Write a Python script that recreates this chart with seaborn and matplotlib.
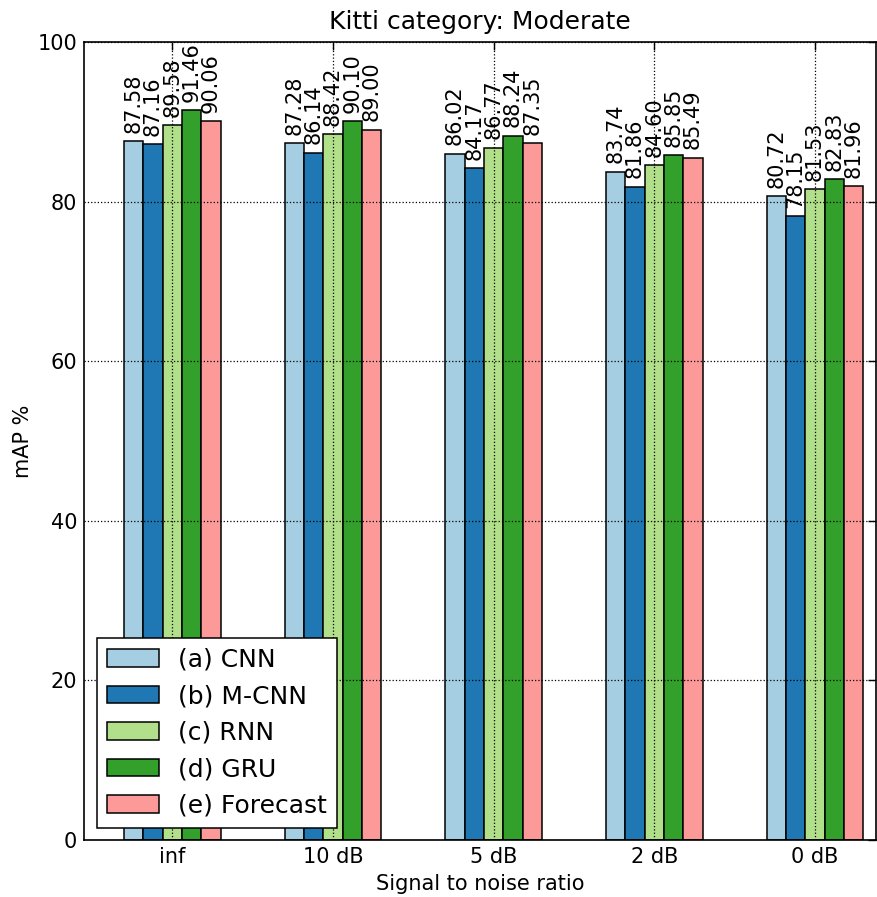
import matplotlib
matplotlib.use("Agg")
import matplotlib.pyplot as plt
import seaborn as sns
import pandas as pd

# Signal-to-noise levels and per-model mAP scores
snr_levels = ["inf", "10 dB", "5 dB", "2 dB", "0 dB"]
models = ["(a) CNN", "(b) M-CNN", "(c) RNN", "(d) GRU", "(e) Forecast"]
cnn = [87.58, 87.28, 86.02, 83.74, 80.72]
mcnn = [87.16, 86.14, 84.17, 81.86, 78.15]
rnn = [89.58, 88.42, 86.77, 84.60, 81.53]
gru = [91.46, 90.10, 88.24, 85.85, 82.83]
forecast = [90.06, 89.00, 87.35, 85.49, 81.96]
y_ticks = [0, 20, 40, 60, 80, 100]

series = [cnn, mcnn, rnn, gru, forecast]
df = pd.DataFrame({
    "snr": [s for _ in models for s in snr_levels],
    "model": [m for m in models for _ in snr_levels],
    "map": [v for vals in series for v in vals],
})

sns.set_style("white")
plt.rcParams["font.family"] = ["DejaVu Sans"]
plt.rcParams.update({
    "text.color": "black",
    "axes.labelcolor": "black",
    "xtick.color": "black",
    "ytick.color": "black",
})

fig = plt.figure(figsize=(8.77, 8.97), dpi=100)
ax = fig.add_axes([0.0958, 0.0635, 0.9031, 0.8897])

palette = sns.color_palette("Paired", 5)
sns.barplot(data=df, x="snr", y="map", hue="model", order=snr_levels,
            hue_order=models, palette=palette, saturation=1, width=0.6,
            edgecolor="black", linewidth=1.1, errorbar=None, ax=ax)

for cont, vals in zip(ax.containers, series):
    ax.bar_label(cont, labels=[f"{v:.2f}" for v in vals], rotation=90,
                 padding=6, fontsize=15, color="black")

ax.set_xlim(-0.55, 4.38)
ax.set_ylim(0, 100)
ax.set_yticks(y_ticks)
ax.grid(True, color="black", linestyle=":", linewidth=0.9)
ax.set_axisbelow(False)
for sp in ax.spines.values():
    sp.set_color("black")
    sp.set_linewidth(1.2)
ax.tick_params(axis="both", which="major", direction="in", length=6,
               width=1, top=True, right=True, labelsize=15, pad=5)

ax.set_title("Kitti category: Moderate", fontsize=18, pad=9, color="black")
ax.set_xlabel("Signal to noise ratio", fontsize=15, labelpad=5)
ax.set_ylabel("mAP %", fontsize=15, labelpad=3)

handles, labels = ax.get_legend_handles_labels()
leg = ax.legend(handles, labels, loc="lower left", fontsize=18,
                frameon=True, fancybox=False, handlelength=2.1,
                handleheight=0.7, handletextpad=0.75, labelspacing=0.5,
                borderpad=0.4, borderaxespad=0.5)
leg.get_frame().set_edgecolor("black")
leg.get_frame().set_linewidth(1.1)
leg.get_frame().set_alpha(1)

fig.savefig("out.png", dpi=100, facecolor="white")
